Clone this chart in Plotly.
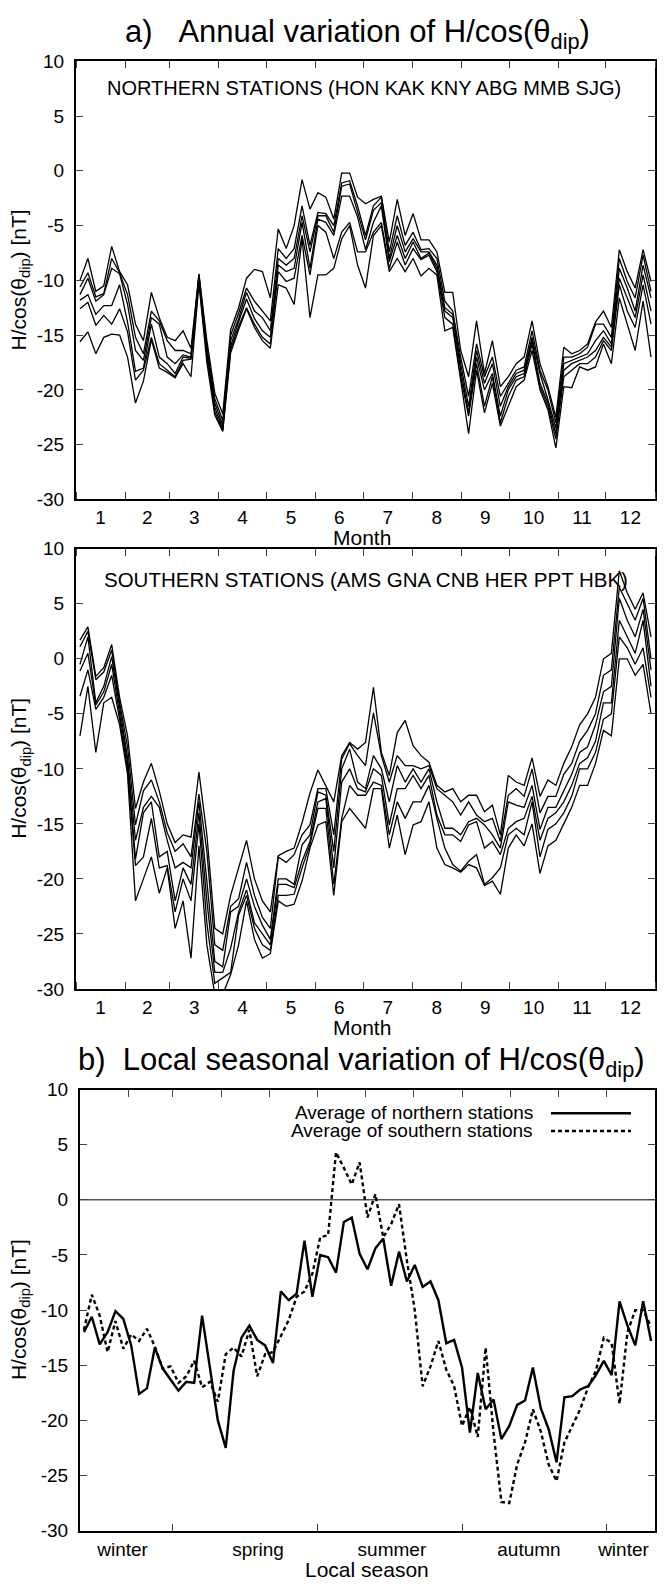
import pandas as pd
import plotly.graph_objects as go

# ---------------- data (5-day bins through the year) ----------------
n_bins = 73
bin_centre_day = [2.5 + 5 * i for i in range(n_bins)]

north_1 = [-10.0, -8.0, -11.0, -10.5, -6.9, -9.2, -10.4, -14.0, -15.5, -11.1,
           -13.4, -15.2, -15.5, -14.6, -16.2, -9.4, -15.5, -20.3, -22.2, -14.5,
           -12.5, -9.8, -9.0, -9.2, -11.6, -5.3, -7.1, -5.0, -0.8, -3.5,
           -2.0, -2.4, -4.4, -0.2, -0.2, -2.4, -3.0, -2.6, -2.3, -6.5,
           -2.6, -5.9, -3.9, -6.3, -6.3, -7.4, -11.1, -11.1, -16.4, -18.8,
           -13.7, -18.5, -15.5, -19.7, -18.8, -17.6, -17.0, -13.7, -17.6, -19.7,
           -22.5, -16.1, -16.7, -16.4, -15.8, -13.8, -12.8, -14.3, -7.2, -9.2,
           -10.7, -7.2, -10.1]
north_2 = [-10.6, -9.3, -11.5, -11.2, -8.0, -9.3, -11.3, -15.2, -16.7, -12.8,
           -13.7, -15.5, -16.4, -16.4, -16.7, -9.5, -16.0, -20.8, -22.8, -15.0,
           -13.0, -10.7, -11.9, -12.8, -13.7, -7.1, -8.0, -7.1, -3.2, -6.8,
           -3.8, -3.9, -5.0, -1.1, -0.9, -3.2, -5.9, -3.2, -2.4, -7.4,
           -4.1, -6.8, -5.6, -7.2, -7.1, -8.0, -11.9, -12.8, -17.0, -20.6,
           -15.8, -18.8, -17.0, -20.6, -19.4, -18.2, -17.9, -14.6, -18.2, -20.0,
           -23.0, -17.0, -17.0, -16.7, -16.1, -14.0, -14.0, -15.2, -8.0, -10.1,
           -11.6, -7.7, -11.0]
north_3 = [-11.3, -9.8, -11.9, -11.3, -8.9, -9.4, -12.2, -16.4, -17.3, -13.4,
           -14.0, -17.0, -17.6, -16.8, -17.0, -9.6, -16.4, -21.2, -23.2, -15.5,
           -13.5, -11.1, -12.8, -13.4, -14.6, -8.0, -8.6, -8.0, -4.1, -7.4,
           -4.1, -4.1, -5.6, -1.4, -1.2, -3.8, -6.3, -3.6, -2.9, -8.0,
           -5.0, -7.4, -6.2, -7.4, -7.4, -8.6, -12.5, -13.1, -17.6, -21.5,
           -16.4, -19.4, -17.6, -21.5, -19.7, -18.5, -18.2, -15.2, -18.5, -20.9,
           -23.5, -17.6, -17.3, -17.0, -16.7, -15.5, -14.6, -15.8, -8.9, -10.7,
           -12.8, -8.6, -11.6]
north_4 = [-11.8, -11.3, -13.1, -12.3, -12.3, -10.4, -13.8, -18.3, -18.0, -14.0,
           -17.0, -17.6, -18.5, -17.0, -17.1, -9.8, -16.6, -21.6, -23.5, -16.0,
           -13.8, -11.7, -13.5, -14.6, -15.2, -8.6, -9.2, -8.9, -4.7, -8.9,
           -4.4, -4.7, -5.9, -2.3, -2.3, -4.2, -7.2, -4.7, -3.2, -8.3,
           -5.9, -8.0, -6.5, -8.0, -7.5, -8.9, -12.8, -13.4, -18.2, -22.1,
           -17.0, -20.0, -18.5, -22.4, -20.0, -18.8, -18.5, -15.5, -19.4, -21.2,
           -24.0, -18.2, -17.6, -17.3, -17.0, -16.4, -15.2, -16.1, -9.8, -11.6,
           -13.4, -9.5, -12.8]
north_5 = [-12.6, -12.0, -14.1, -13.2, -14.0, -12.6, -14.7, -19.1, -18.2, -15.2,
           -17.6, -18.2, -18.8, -17.3, -17.2, -10.0, -17.0, -22.0, -23.7, -16.3,
           -14.2, -12.5, -14.0, -15.2, -15.8, -9.2, -10.1, -9.8, -5.9, -9.5,
           -5.0, -5.6, -8.0, -5.6, -4.7, -7.4, -7.4, -5.6, -4.7, -8.9,
           -6.5, -8.6, -7.1, -8.1, -7.7, -9.2, -13.4, -14.0, -18.8, -22.4,
           -17.6, -21.5, -18.8, -23.0, -20.6, -19.1, -18.8, -15.8, -19.7, -21.5,
           -24.5, -18.8, -18.2, -17.6, -17.6, -17.0, -15.5, -16.4, -10.4, -12.8,
           -14.3, -10.4, -14.0]
north_6 = [-15.6, -14.7, -16.7, -15.2, -14.9, -15.0, -17.0, -21.2, -19.2, -15.4,
           -18.0, -18.4, -18.9, -17.6, -18.8, -10.3, -17.5, -22.3, -23.8, -16.6,
           -14.5, -12.6, -14.3, -15.5, -16.2, -10.4, -10.7, -12.2, -6.2, -13.4,
           -9.5, -9.5, -8.9, -6.2, -5.0, -8.6, -10.7, -5.9, -5.0, -9.2,
           -8.0, -9.2, -8.0, -9.6, -8.9, -9.5, -14.6, -14.3, -19.1, -24.0,
           -18.2, -22.1, -19.4, -23.3, -21.5, -19.7, -19.1, -16.4, -20.0, -21.8,
           -25.3, -19.7, -19.8, -17.9, -18.2, -17.9, -15.8, -17.6, -11.6, -14.0,
           -16.4, -11.9, -17.0]

south_1 = [1.7, 2.9, -1.6, -0.8, 1.3, -3.5, -7.0, -13.6, -11.2, -9.5,
           -12.0, -15.0, -16.7, -16.0, -16.2, -10.3, -16.0, -24.5, -25.0, -21.5,
           -19.0, -16.5, -20.0, -22.0, -23.0, -17.9, -17.5, -17.2, -14.9, -12.2,
           -10.1, -11.5, -13.0, -8.8, -7.6, -8.2, -7.6, -2.6, -8.5, -10.6,
           -6.7, -5.6, -7.9, -8.8, -9.4, -11.5, -12.1, -11.8, -13.0, -12.4,
           -12.4, -13.9, -13.3, -16.0, -10.6, -11.2, -11.5, -9.0, -12.5, -11.0,
           -11.5, -9.5, -8.0, -6.0, -5.0, -3.5, 0.0, 0.5, 8.0, 6.0,
           4.5, 6.0, 2.0]
south_2 = [1.1, 2.5, -1.9, -1.2, 0.8, -4.0, -8.0, -15.1, -12.0, -11.0,
           -13.0, -15.8, -17.5, -16.8, -18.0, -12.3, -17.5, -26.0, -26.5, -22.5,
           -21.8, -18.5, -21.5, -23.5, -24.5, -18.0, -18.5, -17.8, -16.0, -15.1,
           -11.8, -11.8, -16.0, -9.1, -7.7, -8.8, -9.7, -4.9, -8.8, -11.2,
           -8.8, -9.7, -9.7, -10.0, -9.7, -11.8, -12.4, -13.0, -14.2, -13.0,
           -14.2, -14.8, -14.5, -16.6, -12.4, -11.8, -12.5, -10.0, -14.0, -12.5,
           -12.5, -10.5, -9.5, -7.5, -6.5, -5.0, -1.5, -1.0, 6.5, 5.0,
           3.5, 5.5, 0.0]
south_3 = [-0.5, 2.0, -4.0, -2.5, 0.2, -4.5, -9.0, -16.5, -13.5, -12.5,
           -13.5, -16.5, -19.0, -18.5, -19.0, -13.0, -20.0, -27.5, -28.0, -23.0,
           -22.5, -20.0, -22.5, -24.2, -25.5, -20.0, -20.0, -20.5, -16.9, -16.0,
           -12.1, -12.4, -17.5, -10.0, -8.2, -11.2, -11.8, -8.8, -10.0, -13.0,
           -9.7, -11.2, -10.0, -11.2, -10.0, -13.0, -15.4, -15.4, -16.0, -14.8,
           -14.5, -15.1, -16.0, -17.2, -13.0, -13.3, -13.5, -11.5, -15.5, -13.5,
           -13.5, -12.0, -10.5, -8.5, -8.0, -6.0, -3.0, -2.5, 5.5, 3.5,
           2.0, 4.5, -1.0]
south_4 = [-1.1, 0.5, -4.2, -3.0, -0.5, -5.0, -9.5, -18.2, -14.0, -13.0,
           -18.0, -17.5, -22.0, -19.0, -20.5, -14.0, -22.0, -28.5, -28.5, -26.3,
           -23.0, -21.0, -24.0, -25.0, -26.0, -20.5, -20.5, -20.8, -18.4, -16.6,
           -13.0, -12.7, -19.0, -11.2, -10.0, -11.8, -12.1, -10.0, -10.6, -15.1,
           -11.8, -11.8, -10.6, -11.8, -10.6, -14.2, -16.0, -16.0, -16.6, -15.1,
           -14.8, -17.2, -16.6, -17.8, -15.4, -14.8, -14.5, -12.5, -16.5, -14.5,
           -14.0, -13.0, -11.5, -9.5, -9.0, -7.5, -4.0, -4.0, 3.5, 2.0,
           0.5, 3.5, -2.5]
south_5 = [-3.4, -1.0, -4.6, -3.5, -1.5, -5.5, -10.0, -18.8, -18.0, -14.5,
           -19.0, -18.8, -23.0, -20.0, -22.0, -15.0, -24.0, -29.5, -29.0, -28.5,
           -23.3, -21.5, -24.5, -26.0, -26.5, -21.5, -21.5, -21.4, -19.0, -16.9,
           -13.6, -13.6, -20.5, -14.5, -11.5, -12.4, -12.4, -11.2, -11.5, -16.0,
           -13.0, -14.5, -13.0, -13.0, -11.5, -14.5, -17.2, -18.7, -19.3, -18.4,
           -17.8, -20.5, -19.9, -19.0, -16.0, -15.4, -16.0, -13.0, -18.0, -15.5,
           -15.0, -14.0, -12.5, -10.0, -10.0, -8.5, -5.5, -5.0, 2.0, 1.0,
           -0.5, 1.0, -3.5]
south_6 = [-7.0, -2.5, -8.5, -4.0, -3.5, -6.0, -10.5, -22.0, -20.0, -18.0,
           -21.3, -19.0, -24.5, -22.0, -27.2, -17.0, -26.0, -30.5, -30.5, -28.7,
           -26.0, -22.0, -25.5, -27.2, -26.8, -22.0, -22.5, -22.3, -20.2, -17.2,
           -15.1, -14.8, -21.5, -14.8, -13.6, -14.5, -15.4, -11.8, -11.8, -17.2,
           -14.2, -17.8, -15.1, -14.8, -13.0, -17.2, -18.7, -19.0, -19.4, -18.7,
           -19.0, -20.6, -20.2, -21.4, -17.2, -16.0, -17.0, -15.0, -19.5, -17.0,
           -16.5, -15.0, -13.5, -11.5, -11.5, -9.5, -6.5, -7.0, 0.0, 0.0,
           -1.5, -0.5, -5.0]

avg_north_local = [-12.0, -10.6, -13.1, -12.0, -10.1, -10.8, -13.2, -17.6, -17.1, -13.4,
                   -15.3, -16.3, -17.3, -16.5, -16.6, -10.5, -15.3, -20.0, -22.5, -15.5,
                   -12.5, -11.4, -12.7, -13.2, -14.8, -8.3, -9.1, -8.5, -3.7, -8.8,
                   -5.0, -5.2, -6.6, -2.0, -1.6, -4.9, -6.3, -4.4, -3.5, -7.8,
                   -4.7, -7.4, -5.9, -7.9, -7.4, -9.1, -13.0, -12.7, -15.2, -21.1,
                   -15.7, -19.0, -18.1, -21.7, -20.5, -18.6, -18.2, -15.2, -18.9, -20.8,
                   -23.8, -17.9, -17.8, -17.2, -16.9, -15.9, -14.6, -15.9, -9.2, -11.4,
                   -13.2, -9.2, -12.8]
avg_south_local = [-11.8, -8.6, -10.5, -13.8, -11.0, -13.5, -12.2, -12.8, -11.7, -13.3,
                   -15.3, -15.1, -16.6, -16.0, -14.6, -17.0, -16.5, -18.3, -14.0, -13.4,
                   -14.2, -11.8, -16.0, -14.0, -13.8, -12.3, -10.9, -8.8, -8.3, -6.7,
                   -3.4, -3.2, 4.3, 2.9, 1.4, 3.4, -1.6, 0.5, -3.4, -2.2,
                   -0.4, -5.5, -10.0, -16.9, -15.1, -12.8, -15.4, -16.9, -20.5, -18.8,
                   -21.5, -13.4, -21.1, -27.4, -27.5, -24.0, -22.0, -19.0, -21.0, -24.0,
                   -25.5, -22.0, -20.5, -19.0, -17.0, -15.5, -12.5, -13.0, -18.5, -12.0,
                   -10.0, -10.0, -11.5]

north_stations = [north_1, north_2, north_3, north_4, north_5, north_6]
south_stations = [south_1, south_2, south_3, south_4, south_5, south_6]

value_ticks = [-30, -25, -20, -15, -10, -5, 0, 5, 10]
value_tick_text = ["-30", "-25", "-20", "-15", "-10", "-5", "0", "5", "10"]

season_labels = ["winter", "spring", "summer", "autumn", "winter"]
season_label_dates = ["2001-01-28", "2001-04-24", "2001-07-18", "2001-10-13", "2001-12-12"]
season_boundaries = ["2001-03-01", "2001-06-01", "2001-09-01", "2001-12-01"]

north_title = "NORTHERN STATIONS (HON KAK KNY ABG MMB SJG)"
south_title = "SOUTHERN STATIONS (AMS GNA CNB HER PPT HBK)"

# ---------------- geometry helpers ----------------
W, H = 668, 1591
FONT = "Liberation Sans, Arial, Helvetica, sans-serif"
NB = "\u00a0"


def fx(px):
    return px / W


def fy(py):
    return 1 - py / H


year_start = pd.Timestamp("2001-01-01")
x_dates = [(year_start + pd.Timedelta(days=d)).strftime("%Y-%m-%d %H:%M") for d in bin_centre_day]
x_range = ["2001-01-01", "2002-01-01"]

P1 = dict(x=(76, 655), y=(52, 496))
P2 = dict(x=(76, 655), y=(546, 992))
P3 = dict(x=(80, 655), y=(1094, 1541))


def xdom(p):
    return [fx(p["x"][0]), fx(p["x"][1])]


def ydom(p):
    return [fy(p["y"][1]), fy(p["y"][0])]


TICK_SIZE = 19
tickfont = dict(family=FONT, size=TICK_SIZE, color="black")

fig = go.Figure()

for arr in north_stations:
    fig.add_trace(go.Scatter(x=x_dates, y=arr, mode="lines", xaxis="x", yaxis="y",
                             line=dict(color="black", width=1.3), showlegend=False, hoverinfo="skip"))
for arr in south_stations:
    fig.add_trace(go.Scatter(x=x_dates, y=arr, mode="lines", xaxis="x2", yaxis="y2",
                             line=dict(color="black", width=1.3), showlegend=False, hoverinfo="skip"))

# zero reference line on panel b (drawn on the top month axis)
fig.add_trace(go.Scatter(x=x_range, y=[0, 0], mode="lines", xaxis="x4", yaxis="y3",
                         line=dict(color="black", width=1), showlegend=False, hoverinfo="skip"))
fig.add_trace(go.Scatter(x=x_dates, y=avg_north_local, mode="lines", xaxis="x3", yaxis="y3",
                         line=dict(color="black", width=2.4), showlegend=False, hoverinfo="skip"))
fig.add_trace(go.Scatter(x=x_dates, y=avg_south_local, mode="lines", xaxis="x3", yaxis="y3",
                         line=dict(color="black", width=2.4, dash="4px,3px"), showlegend=False,
                         hoverinfo="skip"))


def month_axis(p, anchor):
    return dict(domain=xdom(p), anchor=anchor, type="date", range=x_range,
                dtick="M1", tick0="2001-01-01", tickformat="%-m", ticklabelmode="period",
                ticks="inside", ticklen=7, tickwidth=1, tickcolor="#444",
                showline=True, linewidth=2.2, linecolor="black", mirror="ticks",
                showgrid=False, zeroline=False, tickfont=tickfont, fixedrange=True)


def value_axis(p, anchor):
    return dict(domain=ydom(p), anchor=anchor, range=[-30, 10],
                tickmode="array", tickvals=value_ticks, ticktext=value_tick_text,
                ticks="inside", ticklen=7, tickwidth=1, tickcolor="#444",
                ticklabelstandoff=6,
                showline=True, linewidth=2.2, linecolor="black", mirror="ticks",
                showgrid=False, zeroline=False, tickfont=tickfont, fixedrange=True)


layout = dict(
    width=W, height=H, margin=dict(l=0, r=0, t=0, b=0),
    paper_bgcolor="white", plot_bgcolor="white",
    font=dict(family=FONT, color="black"),
    showlegend=False,
    xaxis=month_axis(P1, "y"),
    yaxis=value_axis(P1, "x"),
    xaxis2=month_axis(P2, "y2"),
    yaxis2=value_axis(P2, "x2"),
    xaxis3=dict(domain=xdom(P3), anchor="y3", type="date", range=x_range,
                tickmode="array", tickvals=season_label_dates, ticktext=season_labels,
                ticks="", showline=True, linewidth=2.2, linecolor="black", mirror=True,
                ticklabelstandoff=0,
                minor=dict(tickmode="array", tickvals=season_boundaries, ticks="inside",
                           ticklen=7, tickwidth=1, tickcolor="#444"),
                showgrid=False, zeroline=False, tickfont=tickfont, fixedrange=True),
    xaxis4=dict(overlaying="x3", anchor="y3", side="top", type="date", range=x_range,
                dtick="M1", tick0="2001-01-01", ticks="inside", ticklen=7, tickwidth=1,
                tickcolor="#444", showticklabels=False, showline=False,
                showgrid=False, zeroline=False, fixedrange=True),
    yaxis3=value_axis(P3, "x3"),
)
fig.update_layout(**layout)

ann = []


def add_text(text, x, y, size, angle=0, xanchor="center"):
    ann.append(dict(text=text, x=fx(x), y=fy(y), xref="paper", yref="paper",
                    xanchor=xanchor, yanchor="middle", showarrow=False, textangle=angle,
                    font=dict(family=FONT, size=size, color="black")))


TITLE = 31
add_text("a)" + NB * 3 + "Annual variation of H/cos(\u03b8<sub>dip</sub>)", 358, 24, TITLE)
add_text("b)" + NB * 2 + "Local seasonal variation of H/cos(\u03b8<sub>dip</sub>)", 361, 1066, TITLE)

YT = 21
for p in (P1, P2, P3):
    add_text("H/cos(\u03b8<sub>dip</sub>) [nT]", 20, (p["y"][0] + p["y"][1]) / 2, YT, angle=-90)

add_text("Month", 362, 535, 21)
add_text("Month", 362, 1031, 21)
add_text("Local season", 367, 1580, 21)

add_text(north_title, 364, 79, 20)
add_text(south_title, 366, 577, 20.5)

# legend of panel b
add_text("Average of northern stations", 535, 1117, 19, xanchor="right")
add_text("Average of southern stations", 535, 1135, 19, xanchor="right")

fig.update_layout(annotations=ann)
fig.update_layout(shapes=[
    dict(type="line", xref="paper", yref="paper", x0=fx(551), x1=fx(631), y0=fy(1118), y1=fy(1118),
         line=dict(color="black", width=2.4)),
    dict(type="line", xref="paper", yref="paper", x0=fx(551), x1=fx(631), y0=fy(1136), y1=fy(1136),
         line=dict(color="black", width=2.4, dash="4px,3px")),
])

fig.write_html("out.html", config={"displayModeBar": False})
